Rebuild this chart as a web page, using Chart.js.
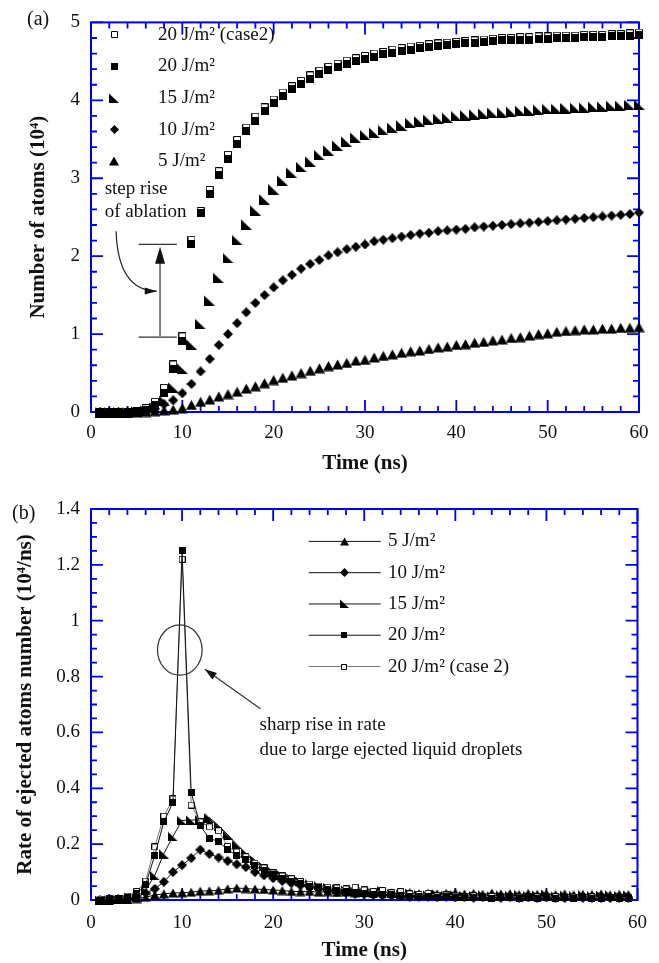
<!DOCTYPE html>
<html>
<head>
<meta charset="utf-8">
<script src="https://cdn.jsdelivr.net/npm/chart.js@4.4.0/dist/chart.umd.min.js"></script>
<style>
body { margin: 0; background: #fff; width: 659px; height: 963px; overflow: hidden; position: relative; font-family: 'Liberation Serif', serif; }
.wrap { position: absolute; left: 0; width: 659px; }
#wa { top: 0; height: 480px; }
#wb { top: 480px; height: 483px; }
.tag { position: absolute; font-size: 20px; color: #111; }
</style>
</head>
<body>
<div class="wrap" id="wa"><canvas id="chartA"></canvas></div>
<div class="wrap" id="wb"><canvas id="chartB"></canvas></div>
<div class="tag" style="left:27px;top:7px">(a)</div>
<div class="tag" style="left:12px;top:501px">(b)</div>
<script>
// ---- data: (a) number of atoms (10^4) vs time (ns)
const timeA = [1,2,3,4,5,6,7,8,9,10,11,12,13,14,15,16,17,18,19,20,21,22,23,24,25,26,27,28,29,30,
	31,32,33,34,35,36,37,38,39,40,41,42,43,44,45,46,47,48,49,50,51,52,53,54,55,56,57,58,59,60];
const atoms5 = [0,0,0,0,0,0,0.01,0.02,0.03,0.05,0.09,0.13,0.16,0.20,0.23,0.26,0.30,0.33,0.37,0.41,
	0.44,0.47,0.50,0.53,0.56,0.59,0.61,0.63,0.66,0.67,0.70,0.72,0.74,0.76,0.78,0.79,0.81,0.83,0.84,0.86,
	0.87,0.89,0.90,0.92,0.93,0.95,0.96,0.98,1.00,1.01,1.03,1.04,1.05,1.06,1.06,1.07,1.07,1.08,1.08,1.09];
const atoms10 = [0,0,0,0,0,0.01,0.04,0.10,0.15,0.24,0.36,0.52,0.68,0.86,1.00,1.14,1.28,1.40,1.50,1.60,
	1.69,1.76,1.84,1.90,1.95,2.01,2.05,2.09,2.12,2.15,2.19,2.21,2.23,2.25,2.27,2.29,2.30,2.32,2.33,2.34,
	2.35,2.37,2.38,2.39,2.40,2.41,2.42,2.43,2.44,2.45,2.46,2.47,2.48,2.49,2.50,2.51,2.52,2.53,2.54,2.56];
const atoms15 = [0,0,0,0,0.01,0.02,0.06,0.15,0.32,0.56,0.87,1.13,1.43,1.72,1.98,2.21,2.41,2.59,2.73,2.86,
	2.97,3.07,3.15,3.22,3.30,3.36,3.42,3.47,3.52,3.56,3.59,3.62,3.65,3.68,3.71,3.73,3.75,3.77,3.78,3.80,
	3.81,3.82,3.83,3.84,3.85,3.86,3.87,3.87,3.88,3.89,3.89,3.90,3.91,3.91,3.92,3.92,3.93,3.93,3.94,3.95];
const atoms20 = [0,0,0,0,0.01,0.03,0.09,0.25,0.55,0.91,2.16,2.55,2.80,3.04,3.25,3.44,3.60,3.74,3.86,3.97,
	4.06,4.14,4.21,4.28,4.34,4.39,4.43,4.47,4.50,4.53,4.56,4.59,4.61,4.63,4.65,4.67,4.68,4.70,4.71,4.72,
	4.73,4.74,4.75,4.76,4.77,4.77,4.78,4.78,4.79,4.79,4.80,4.80,4.80,4.81,4.81,4.81,4.82,4.82,4.83,4.84];
const atoms20c = [0,0,0,0,0.01,0.05,0.13,0.31,0.61,0.97,2.21,2.58,2.85,3.09,3.30,3.49,3.65,3.79,3.91,4.01,
	4.10,4.18,4.25,4.32,4.38,4.43,4.47,4.51,4.54,4.57,4.60,4.62,4.65,4.67,4.69,4.70,4.72,4.73,4.74,4.75,
	4.76,4.77,4.78,4.79,4.80,4.80,4.81,4.81,4.82,4.82,4.83,4.83,4.83,4.84,4.84,4.84,4.85,4.85,4.86,4.87];

// ---- data: (b) rate of ejected atoms (10^4/ns) vs time (ns)
const timeB = [1,2,3,4,5,6,7,8,9,10,11,12,13,14,15,16,17,18,19,20,21,22,23,24,25,26,27,28,29,30,
	31,32,33,34,35,36,37,38,39,40,41,42,43,44,45,46,47,48,49,50,51,52,53,54,55,56,57,58,59];
const rate5 = [0,0.002,0.002,0.003,0.005,0.010,0.018,0.022,0.025,0.026,0.028,0.032,0.033,0.035,0.040,
	0.043,0.041,0.039,0.038,0.036,0.034,0.031,0.030,0.031,0.028,0.030,0.027,0.029,0.026,0.028,
	0.025,0.030,0.026,0.024,0.027,0.023,0.025,0.022,0.024,0.026,0.022,0.024,0.021,0.025,0.022,
	0.023,0.020,0.024,0.021,0.023,0.020,0.022,0.019,0.021,0.020,0.022,0.019,0.021,0.020];
const rate10 = [0,0.001,0.002,0.004,0.010,0.025,0.040,0.065,0.100,0.125,0.150,0.180,0.165,0.152,0.140,
	0.128,0.118,0.100,0.088,0.078,0.068,0.060,0.052,0.046,0.040,0.034,0.030,0.026,0.022,0.020,
	0.018,0.016,0.015,0.013,0.012,0.011,0.012,0.010,0.011,0.009,0.010,0.008,0.010,0.009,0.008,
	0.010,0.008,0.009,0.007,0.009,0.008,0.007,0.009,0.008,0.007,0.008,0.007,0.008,0.007];
const rate15 = [0,0.001,0.002,0.004,0.012,0.035,0.088,0.166,0.228,0.285,0.286,0.288,0.295,0.266,0.234,
	0.199,0.168,0.143,0.120,0.102,0.090,0.078,0.068,0.060,0.052,0.046,0.040,0.036,0.033,0.030,
	0.027,0.034,0.025,0.022,0.026,0.020,0.019,0.022,0.017,0.019,0.016,0.018,0.020,0.016,0.019,
	0.017,0.020,0.016,0.018,0.021,0.016,0.019,0.017,0.020,0.016,0.018,0.019,0.016,0.018];
const rate20 = [0,0.002,0.004,0.008,0.022,0.055,0.160,0.280,0.350,1.250,0.385,0.265,0.220,0.210,0.180,
	0.160,0.145,0.122,0.105,0.090,0.078,0.068,0.058,0.050,0.044,0.038,0.034,0.030,0.027,0.024,
	0.021,0.019,0.018,0.015,0.014,0.012,0.012,0.010,0.011,0.009,0.010,0.008,0.009,0.007,0.009,
	0.008,0.007,0.009,0.007,0.008,0.007,0.008,0.006,0.008,0.007,0.006,0.008,0.007,0.006];
const rate20c = [0.003,0.004,0.006,0.014,0.030,0.068,0.190,0.300,0.362,1.220,0.340,0.280,0.262,0.248,0.192,
	0.172,0.155,0.132,0.115,0.097,0.086,0.076,0.066,0.057,0.050,0.046,0.043,0.040,0.046,0.036,
	0.030,0.034,0.026,0.030,0.022,0.020,0.024,0.015,0.018,0.014,0.012,0.015,0.010,0.013,0.009,
	0.012,0.010,0.008,0.011,0.009,0.012,0.008,0.010,0.009,0.011,0.008,0.010,0.009,0.008];

// ---- ticks
const xTicks = [0,10,20,30,40,50,60];
const yTicksA = [0,1,2,3,4,5];
const yTicksB = [0,0.2,0.4,0.6,0.8,1,1.2,1.4];

const serif = "'Liberation Serif', 'Times New Roman', serif";
Chart.defaults.font.family = serif;
Chart.defaults.color = '#111';

const toPoints = (xs, ys) => xs.map((t, i) => ({x: t, y: ys[i]}));

// small canvases used as point markers
const makeMarker = (kind, s) => {
	const c = document.createElement('canvas');
	c.width = s; c.height = s;
	const g = c.getContext('2d');
	g.fillStyle = '#000';
	g.strokeStyle = '#000';
	g.lineWidth = 1;
	g.beginPath();
	if (kind === 'square') g.rect(0, 0, s, s);
	else if (kind === 'open') {
		g.fillStyle = '#fff';
		g.rect(0.5, 0.5, s - 1, s - 1);
		g.fill();
		g.stroke();
		return c;
	}
	else if (kind === 'diamond') { g.moveTo(s / 2, 0); g.lineTo(s, s / 2); g.lineTo(s / 2, s); g.lineTo(0, s / 2); }
	else if (kind === 'triangle') { g.moveTo(s / 2, 0.5); g.lineTo(s, s - 0.5); g.lineTo(0, s - 0.5); }
	else if (kind === 'rightTri') { g.moveTo(0, 0.5); g.lineTo(0, s); g.lineTo(s, s); }
	g.closePath();
	g.fill();
	return c;
};

const arrowHead = (ctx, x0, y0, x1, y1, len, half) => {
	const a = Math.atan2(y1 - y0, x1 - x0);
	const bx = x1 - len * Math.cos(a), by = y1 - len * Math.sin(a);
	ctx.beginPath();
	ctx.moveTo(x1, y1);
	ctx.lineTo(bx + half * Math.sin(a), by - half * Math.cos(a));
	ctx.lineTo(bx - half * Math.sin(a), by + half * Math.cos(a));
	ctx.closePath();
	ctx.fill();
};

// blue box with inward major/minor ticks on all four sides
const frameTicks = {
	id: 'frameTicks',
	beforeDatasetsDraw(chart, args, opts) {
		const {ctx, chartArea: a, scales: {x, y}} = chart;
		ctx.save();
		ctx.strokeStyle = '#0000f0';
		ctx.lineWidth = 2;
		ctx.strokeRect(a.left, a.top, a.right - a.left, a.bottom - a.top);
		ctx.lineWidth = 1.8;
		ctx.beginPath();
		const nx = Math.round((x.max - x.min) / opts.xMinor);
		for (let i = 0; i <= nx; i++) {
			const px = x.getPixelForValue(x.min + i * opts.xMinor);
			const len = i % opts.xEvery === 0 ? 12 : 6;
			ctx.moveTo(px, a.bottom); ctx.lineTo(px, a.bottom - len);
			ctx.moveTo(px, a.top); ctx.lineTo(px, a.top + len);
		}
		const ny = Math.round((y.max - y.min) / opts.yMinor);
		for (let i = 0; i <= ny; i++) {
			const py = y.getPixelForValue(y.min + i * opts.yMinor);
			const len = i % opts.yEvery === 0 ? 12 : 6;
			ctx.moveTo(a.left, py); ctx.lineTo(a.left + len, py);
			ctx.moveTo(a.right, py); ctx.lineTo(a.right - len, py);
		}
		ctx.stroke();
		ctx.restore();
	}
};

// in-plot key drawn from the datasets
const keyPlugin = {
	id: 'key',
	afterDatasetsDraw(chart, args, opts) {
		const {ctx, scales: {x, y}} = chart;
		ctx.save();
		ctx.font = `19px ${serif}`;
		ctx.textBaseline = 'middle';
		opts.order.forEach((di, i) => {
			const ds = chart.data.datasets[di];
			const py = y.getPixelForValue(opts.y0 - i * opts.dy);
			if (opts.lineFrom !== undefined) {
				ctx.strokeStyle = ds.borderColor;
				ctx.lineWidth = 1;
				ctx.beginPath();
				ctx.moveTo(x.getPixelForValue(opts.lineFrom), py);
				ctx.lineTo(x.getPixelForValue(opts.lineTo), py);
				ctx.stroke();
			}
			const img = opts.icons[di];
			ctx.drawImage(img, Math.round(x.getPixelForValue(opts.markX) - img.width / 2), Math.round(py - img.height / 2));
			ctx.fillStyle = '#111';
			ctx.fillText(opts.labels[di], x.getPixelForValue(opts.textX), py);
		});
		ctx.restore();
	}
};

// (a) "step rise of ablation" note
const stepNote = {
	id: 'stepNote',
	afterDatasetsDraw(chart) {
		const {ctx, scales: {x, y}} = chart;
		const X = v => x.getPixelForValue(v), Y = v => y.getPixelForValue(v);
		ctx.save();
		ctx.font = `19px ${serif}`;
		ctx.textBaseline = 'middle';
		ctx.fillStyle = '#111';
		ctx.fillText('step rise', X(1.5), Y(2.86));
		ctx.fillText('of ablation', X(1.5), Y(2.57));
		// curved pointer
		ctx.strokeStyle = '#222';
		ctx.lineWidth = 1.2;
		ctx.beginPath();
		ctx.moveTo(X(2.75), Y(2.32));
		ctx.quadraticCurveTo(X(2.95), Y(1.56), X(7.2), Y(1.55));
		ctx.stroke();
		ctx.fillStyle = '#111';
		arrowHead(ctx, X(2.95), Y(1.56), X(7.2), Y(1.55), 12, 3.5);
		// bars
		ctx.strokeStyle = '#333';
		ctx.lineWidth = 1.3;
		ctx.beginPath();
		ctx.moveTo(X(5.2), Y(2.15)); ctx.lineTo(X(9.4), Y(2.15));
		ctx.moveTo(X(5.2), Y(0.96)); ctx.lineTo(X(9.4), Y(0.96));
		ctx.stroke();
		ctx.strokeStyle = '#808080';
		ctx.lineWidth = 2;
		ctx.beginPath();
		ctx.moveTo(X(7.56), Y(0.96)); ctx.lineTo(X(7.56), Y(1.95));
		ctx.stroke();
		arrowHead(ctx, X(7.56), Y(0.96), X(7.56), Y(2.12), 17, 5);
		ctx.restore();
	}
};

// (b) peak note
const peakNote = {
	id: 'peakNote',
	afterDatasetsDraw(chart) {
		const {ctx, scales: {x, y}} = chart;
		const X = v => x.getPixelForValue(v), Y = v => y.getPixelForValue(v);
		ctx.save();
		ctx.strokeStyle = '#333';
		ctx.lineWidth = 1.2;
		ctx.beginPath();
		ctx.ellipse(X(9.75), Y(0.895), X(9.75) - X(7.3), Y(0.805) - Y(0.895), 0, 0, Math.PI * 2);
		ctx.stroke();
		ctx.beginPath();
		ctx.moveTo(X(18.6), Y(0.685));
		ctx.lineTo(X(12.5), Y(0.826));
		ctx.stroke();
		ctx.fillStyle = '#111';
		arrowHead(ctx, X(18.6), Y(0.685), X(12.5), Y(0.826), 12, 4);
		ctx.font = `19px ${serif}`;
		ctx.textBaseline = 'middle';
		ctx.fillText('sharp rise in rate', X(18.5), Y(0.627));
		ctx.fillText('due to large ejected liquid droplets', X(18.5), Y(0.538));
		ctx.restore();
	}
};

const axes = (yTicks, yMax, yTitle, yTitlePad, xHeight, xLabelPad, xTitlePad) => ({
	x: {
		type: 'linear', min: 0, max: 60,
		afterBuildTicks: s => { s.ticks = xTicks.map(v => ({value: v})); },
		afterFit: s => { s.height = xHeight; },
		grid: {display: false, drawTicks: false},
		border: {display: false},
		ticks: {font: {size: 19}, color: '#111', padding: xLabelPad, maxRotation: 0},
		title: {display: true, text: 'Time (ns)', font: {size: 21, weight: 'bold'}, color: '#111', padding: {top: 0, bottom: xTitlePad}}
	},
	y: {
		type: 'linear', min: 0, max: yMax,
		afterBuildTicks: s => { s.ticks = yTicks.map(v => ({value: v})); },
		afterFit: s => { s.width = 91; },
		grid: {display: false, drawTicks: false},
		border: {display: false},
		ticks: {font: {size: 19}, color: '#111', padding: 11, callback: v => String(+v.toFixed(2))},
		title: {display: true, text: yTitle, font: {size: 21, weight: 'bold'}, color: '#111', padding: {top: yTitlePad, bottom: 0}}
	}
});

// ---- chart (a)
const labelsA = ['20 J/m²', '20 J/m² (case2)', '15 J/m²', '10 J/m²', '5 J/m²'];
const kindsA = ['square', 'open', 'rightTri', 'diamond', 'triangle'];
const sizesA = [8, 8, 11, 10, 11];
const seriesA = [atoms20, atoms20c, atoms15, atoms10, atoms5];

new Chart(document.getElementById('chartA'), {
	type: 'scatter',
	data: {
		datasets: seriesA.map((ys, i) => ({
			label: labelsA[i],
			data: toPoints(timeA, ys),
			pointStyle: makeMarker(kindsA[i], sizesA[i]),
			pointRadius: 4,
			showLine: false,
			clip: false
		}))
	},
	options: {
		responsive: true,
		maintainAspectRatio: false,
		animation: false,
		events: [],
		layout: {padding: {top: 20, right: 20, left: 0, bottom: 0}},
		scales: axes(yTicksA, 5, 'Number of atoms (10⁴)', 26, 68, 10, 4),
		plugins: {
			legend: {display: false},
			tooltip: {enabled: false},
			frameTicks: {xMinor: 2, xEvery: 5, yMinor: 0.2, yEvery: 5},
			key: {
				order: [1, 0, 2, 3, 4],
				labels: labelsA,
				icons: kindsA.map((k, i) => makeMarker(k, [7, 7, 10, 9, 10][i])),
				markX: 2.52, textX: 7.34, y0: 4.84, dy: 0.405
			}
		}
	},
	plugins: [frameTicks, keyPlugin, stepNote]
});

// ---- chart (b)
const labelsB = ['20 J/m²', '20 J/m² (case 2)', '15 J/m²', '10 J/m²', '5 J/m²'];
const kindsB = ['square', 'open', 'rightTri', 'diamond', 'triangle'];
const sizesB = [7, 7, 10, 10, 10];
const colorsB = ['#111', '#7a7a7a', '#111', '#111', '#111'];
const seriesB = [rate20, rate20c, rate15, rate10, rate5];

new Chart(document.getElementById('chartB'), {
	type: 'scatter',
	data: {
		datasets: seriesB.map((ys, i) => ({
			label: labelsB[i],
			data: toPoints(timeB, ys),
			pointStyle: makeMarker(kindsB[i], sizesB[i]),
			pointRadius: 4,
			showLine: true,
			borderColor: colorsB[i],
			borderWidth: 1,
			tension: 0,
			clip: false
		}))
	},
	options: {
		responsive: true,
		maintainAspectRatio: false,
		animation: false,
		events: [],
		layout: {padding: {top: 29, right: 21, left: 0, bottom: 0}},
		scales: axes(yTicksB, 1.4, 'Rate of ejected atoms number (10⁴/ns)', 13, 63, 12, 0),
		plugins: {
			legend: {display: false},
			tooltip: {enabled: false},
			frameTicks: {xMinor: 2, xEvery: 5, yMinor: 0.05, yEvery: 4},
			key: {
				order: [4, 3, 2, 0, 1],
				labels: labelsB,
				icons: kindsB.map((k, i) => makeMarker(k, [6, 6, 9, 9, 9][i])),
				lineFrom: 23.9, lineTo: 31.8,
				markX: 27.8, textX: 32.6, y0: 1.284, dy: 0.112
			}
		}
	},
	plugins: [frameTicks, keyPlugin, peakNote]
});
</script>
</body>
</html>
